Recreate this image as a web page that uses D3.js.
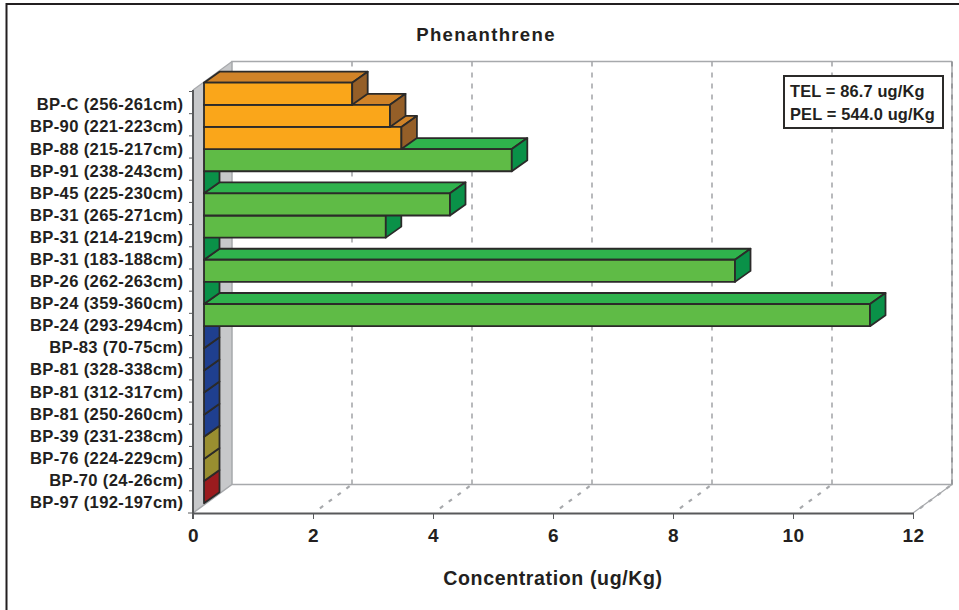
<!DOCTYPE html>
<html><head><meta charset="utf-8">
<script src="https://cdn.jsdelivr.net/npm/d3@7/dist/d3.min.js"></script>
<style>html,body{margin:0;padding:0;background:#fff}svg{display:block}text{font-family:"Liberation Sans",Arial,sans-serif;font-weight:bold;fill:#231F20}</style>
</head><body><svg id="c" width="959" height="610"></svg>
<script>
const categories=["BP-C (256-261cm)","BP-90 (221-223cm)","BP-88 (215-217cm)","BP-91 (238-243cm)","BP-45 (225-230cm)","BP-31 (265-271cm)","BP-31 (214-219cm)","BP-31 (183-188cm)","BP-26 (262-263cm)","BP-24 (359-360cm)","BP-24 (293-294cm)","BP-83 (70-75cm)","BP-81 (328-338cm)","BP-81 (312-317cm)","BP-81 (250-260cm)","BP-39 (231-238cm)","BP-76 (224-229cm)","BP-70 (24-26cm)","BP-97 (192-197cm)"];
const values=[2.47,3.1,3.29,5.13,0,4.1,3.03,0,8.85,0,11.1,0,0,0,0,0,0,0,0];
const groups=["o","o","o","g","g","g","g","g","g","g","g","b","b","b","b","b","y","y","r"];
const xTicks=[0,2,4,6,8,10,12];
const title="Phenanthrene", xTitle="Concentration (ug/Kg)", notes=["TEL = 86.7 ug/Kg","PEL = 544.0 ug/Kg"];
const palette={o:["#FAA61A","#D08328","#955F28"],g:["#5FBB46","#2FB24C","#0A9148"],b:["#1F3F8F","#1F3F8F","#1F3F8F"],y:["#998E30","#998E30","#998E30"],r:["#9B1B1E","#9B1B1E","#9B1B1E"]};
const svg=d3.select("#c");
const GRID="#A7A9AC",WALL="#C7C8CA",INK="#2B2A29";
const x=d3.scaleLinear().domain([0,12]).range([193,913]);
const yTick=d3.scaleBand().domain(categories).range([91.5,513]);
const yBar=d3.scaleBand().domain(categories).range([82.7,503.2]);
const yLab=d3.scaleBand().domain(categories).range([94,513.8]);
const wallDx=39,wallDy=28.6,barInset=11,barDx=15.5,barDy=11;
const yTop=90,yBot=513,x0=x(0),x1=x(12);
const poly=pts=>pts.map(p=>p.join(",")).join(" ");
// frame
svg.append("path").attr("d","M6.5 610V4H959").attr("fill","none").attr("stroke","#231F20").attr("stroke-width",2);
// walls
svg.append("polygon").attr("points",poly([[x0,yTop],[x0+wallDx,yTop-wallDy],[x0+wallDx,yBot-wallDy],[x0,yBot]])).attr("fill",WALL);
svg.append("path").attr("d",`M${x0+wallDx} ${yBot-wallDy}V${yTop-wallDy}H${x1+wallDx}`).attr("fill","none").attr("stroke",GRID).attr("stroke-width",1.5);
svg.append("path").attr("d",`M${x0} ${yBot}L${x0+wallDx} ${yBot-wallDy}H${x1+wallDx}V${yTop-wallDy}`).attr("fill","none").attr("stroke",GRID).attr("stroke-width",1.5);
svg.append("path").attr("d",`M${x0} ${yTop}L${x0+wallDx} ${yTop-wallDy}`).attr("fill","none").attr("stroke",GRID).attr("stroke-width",1.2);
svg.append("line").attr("x1",x1).attr("y1",yBot).attr("x2",x1+wallDx).attr("y2",yBot-wallDy).attr("stroke",GRID).attr("stroke-width",1.2);
// grid
const g=svg.append("g");
g.selectAll(".v").data(xTicks.slice(1)).join("line").attr("x1",d=>x(d)+wallDx).attr("x2",d=>x(d)+wallDx).attr("y1",yTop-wallDy).attr("y2",yBot-wallDy).attr("stroke",d=>d===12?"#8f9194":GRID).attr("stroke-width",1.6).attr("stroke-dasharray","5 6");
g.selectAll(".f").data(xTicks.slice(1)).join("line").attr("x1",d=>x(d)+wallDx).attr("y1",yBot-wallDy).attr("x2",d=>x(d)+6).attr("y2",yBot-4).attr("stroke",GRID).attr("stroke-width",2.2).attr("stroke-dasharray","4 7").attr("stroke-dashoffset",-3);
// bars: lower rows first so upper rows overlap them
const bars=svg.append("g").attr("stroke",INK).attr("stroke-width",1.8).attr("stroke-linejoin","round");
const rows=categories.map((c,i)=>({c,v:values[i],k:groups[i]})).reverse();
const bx=v=>x(v)+barInset;
rows.forEach(r=>{
  const yt=yBar(r.c),yb=yt+yBar.bandwidth(),L=bx(0),R=bx(r.v),col=palette[r.k];
  if(r.v>0){
    bars.append("polygon").attr("points",poly([[L,yt],[L+barDx,yt-barDy],[R+barDx,yt-barDy],[R,yt]])).attr("fill",col[1]);
    bars.append("rect").attr("x",L).attr("y",yt).attr("width",R-L).attr("height",yb-yt).attr("fill",col[0]);
  }
  bars.append("polygon").attr("points",poly([[R,yt],[R+barDx,yt-barDy],[R+barDx,yb-barDy],[R,yb]])).attr("fill",r.v>0?col[2]:(r.k==="g"?col[2]:col[0]));
});
// x axis
const ax=svg.append("g").attr("transform",`translate(0,${yBot})`).call(d3.axisBottom(x).tickValues(xTicks).tickSize(6).tickSizeOuter(0).tickPadding(10));
ax.select(".domain").attr("stroke","#58595B").attr("stroke-width",2);
ax.selectAll(".tick line").attr("stroke","#58595B").attr("stroke-width",1);
ax.selectAll("text").attr("font-size",19).attr("letter-spacing",0.4).attr("font-family",null).attr("dy","0.71em");
// y axis
const ticks=svg.append("g");
ticks.selectAll("line").data(categories).join("line").attr("x1",x0-4).attr("x2",x0).attr("y1",d=>yTick(d)).attr("y2",d=>yTick(d)).attr("stroke","#58595B").attr("stroke-width",1);
ticks.append("line").attr("x1",x0-5).attr("x2",x0).attr("y1",yBot).attr("y2",yBot).attr("stroke","#58595B").attr("stroke-width",1);
ticks.append("line").attr("x1",x0).attr("x2",x0).attr("y1",yTop).attr("y2",yBot+6).attr("stroke","#58595B").attr("stroke-width",2);
const ay=svg.append("g").attr("transform","translate(183.5,0)").call(d3.axisLeft(yLab).tickSize(0).tickPadding(0));
ay.select(".domain").remove();
ay.selectAll("text").attr("font-size",16.6).attr("letter-spacing",0.35).attr("font-family",null);
// titles
svg.append("text").attr("x",486).attr("y",41).attr("text-anchor","middle").attr("font-size",18.6).attr("letter-spacing",1.3).text(title);
svg.append("text").attr("x",553).attr("y",585).attr("text-anchor","middle").attr("font-size",19.6).attr("letter-spacing",0.6).text(xTitle);
// note box
svg.append("rect").attr("x",784).attr("y",76).attr("width",159).attr("height",52).attr("fill","#fff").attr("stroke",INK).attr("stroke-width",2);
svg.selectAll(".n").data(notes).join("text").attr("x",790).attr("y",(d,i)=>97+i*23).attr("font-size",16.4).attr("letter-spacing",0.15).text(d=>d);
</script></body></html>
